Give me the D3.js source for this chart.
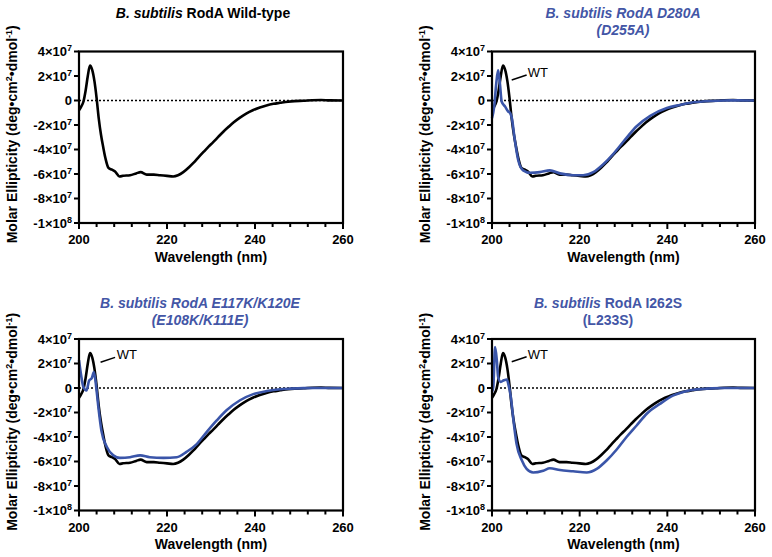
<!DOCTYPE html>
<html><head><meta charset="utf-8">
<script src="https://cdn.jsdelivr.net/npm/d3@7"></script>
<style>
body{margin:0;background:#fff;}
text{font-family:"Liberation Sans",Arial,Helvetica,sans-serif;}
</style></head>
<body>
<svg id="c" width="772" height="557"></svg>
<script>
// ---- data (ellipticity in units of 1e7 deg·cm²·dmol⁻¹) ----
const UNIT = 1e7;
const wtNm = [200,200.5,201,201.5,202,202.5,203,203.5,204,204.5,205,205.5,206,206.7,207.5,208.2,209.2,210,211.6,213,214,215.4,217,218.4,220,221.4,222.5,223.7,225,226,227,228.3,229.5,230.5,231.7,232.8,234,235.1,236.5,238.1,239.5,241.1,242.6,244.2,245.7,247.5,249,251,253,255,257,260];
const wtVal = [-0.8,-0.5,-0.1,0.8,2.0,2.85,2.5,1.6,0.2,-1.5,-2.8,-3.8,-4.7,-5.5,-5.65,-5.8,-6.2,-6.15,-6.1,-5.95,-5.85,-6.05,-6.05,-6.1,-6.15,-6.2,-6.1,-5.85,-5.45,-5.1,-4.7,-4.2,-3.75,-3.4,-2.95,-2.55,-2.15,-1.8,-1.42,-1.05,-0.8,-0.57,-0.4,-0.27,-0.19,-0.1,-0.05,-0.02,0.02,0.04,0.01,0];

const d280aNm = [200,200.5,201,201.4,201.8,202.2,203,203.7,204.1,204.5,205.2,206,207.1,208.7,210.9,213.2,215.5,218.5,220.8,223.1,225.4,227.7,230,233,236.1,239.9,242.9,245,247.5,250,253,256,260];
const d280aVal = [-1.44,-0.5,1.5,2.46,1.4,-0.08,-0.5,-0.9,-1.0,-1.4,-3.2,-4.9,-5.7,-5.9,-5.85,-5.7,-5.95,-6.1,-6.1,-5.85,-5.2,-4.35,-3.35,-2.1,-1.25,-0.62,-0.36,-0.2,-0.1,-0.04,0,0.01,0];

const e117kNm = [200,200.5,201,201.7,202.3,202.9,203.4,203.9,204.4,205.1,206.3,207.8,209.3,211.6,213.9,216.1,219.2,222.2,224.5,226.7,229,231.3,233.6,236.6,239.6,242.7,245.7,248,251,255,260];
const e117kVal = [2.27,1.0,0.08,-0.2,0.6,0.8,1.3,0.1,-1.55,-3.5,-4.8,-5.5,-5.7,-5.65,-5.5,-5.65,-5.7,-5.65,-5.2,-4.6,-3.6,-2.65,-1.8,-1.0,-0.5,-0.25,-0.1,-0.05,-0.01,0,0];

const i262sNm = [200,200.3,200.7,201.1,201.4,202,202.7,203.4,203.7,204.3,204.9,205.6,206.8,207.9,209.4,211.7,213.2,215.5,218.5,221.6,223.9,226.2,228.5,230.7,233,235.3,238.3,241.4,242.9,244.5,246,248,250,253,256,260];
const i262sVal = [-0.33,0.1,3.35,2.27,0.9,0.5,0.63,0.7,0.36,-0.74,-2.65,-4.56,-5.9,-6.6,-6.9,-6.75,-6.55,-6.7,-6.8,-6.9,-6.6,-5.9,-5.0,-4.0,-3.06,-2.1,-1.3,-0.6,-0.4,-0.25,-0.15,-0.08,-0.03,0,0,0];

const xTickMajor = [200,220,240,260];
const xTickMinor = [204,208,212,216,224,228,232,236,244,248,252,256];
const yTickValues = [4,2,0,-2,-4,-6,-8,-10];
const yTickLabels = [["4×10","7"],["2×10","7"],["0",""],["-2×10","7"],["-4×10","7"],["-6×10","7"],["-8×10","7"],["-1×10","8"]];

const titles = [
  [[["B. subtilis",true],[" RodA Wild-type",false]]],
  [[["B. subtilis RodA D280A",true]],[["(D255A)",true]]],
  [[["B. subtilis RodA E117K/K120E",true]],[["(E108K/K111E)",true]]],
  [[["B. subtilis",true],[" RodA I262S",false]],[["(L233S)",false]]]
];
const titleColors = ["#000","#4356a6","#4356a6","#4356a6"];
const mutantNm = [null,d280aNm,e117kNm,i262sNm];
const mutantVal = [null,d280aVal,e117kVal,i262sVal];
// WT annotation: [label nm, label value, line start nm, value, line end nm, value]
const wtNote = [null,[208.15,1.92,204.5,1.67,207.9,2.08],[208.6,2.37,204.9,2.1,208.2,2.5],[208.15,2.37,204.5,2.15,207.9,2.55]];

// ---- layout ----
const boxes = [
  {l:79,r:343,t:51.5,b:223, tx:203, ty:[18,35]},
  {l:492,r:755,t:51.5,b:223, tx:623, ty:[18,35]},
  {l:79,r:343,t:339,b:510.5, tx:200, ty:[308,325]},
  {l:492,r:755,t:339,b:510.5, tx:608, ty:[308,325]}
];
const BLUE = "#3a55a9";
const svg = d3.select("#c");
svg.append("rect").attr("width",772).attr("height",557).attr("fill","#fff");

boxes.forEach((B,i)=>{
  const x = d3.scaleLinear().domain([200,260]).range([B.l,B.r]);
  const y = d3.scaleLinear().domain([-10,4]).range([B.b,B.t]);
  const g = svg.append("g");

  titles[i].forEach((line,k)=>{
    const t = g.append("text").attr("x",B.tx).attr("y",B.ty[k]).attr("text-anchor","middle")
      .attr("font-size",14).attr("font-weight","bold").attr("fill",titleColors[i]);
    line.forEach(([s,it])=>t.append("tspan").text(s).attr("font-style",it?"italic":"normal"));
  });

  g.append("line").attr("x1",x(200)).attr("x2",x(260)).attr("y1",y(0)).attr("y2",y(0))
    .attr("stroke","#000").attr("stroke-width",1.3).attr("stroke-dasharray","2,2");

  const line = d3.line().x(d=>x(d[0])).y(d=>y(d[1])).curve(d3.curveMonotoneX);
  g.append("path").datum(d3.zip(wtNm,wtVal)).attr("d",line).attr("fill","none")
    .attr("stroke","#000").attr("stroke-width",2.6).attr("stroke-linejoin","round");
  if(mutantNm[i]){
    g.append("path").datum(d3.zip(mutantNm[i],mutantVal[i])).attr("d",line).attr("fill","none")
      .attr("stroke",BLUE).attr("stroke-width",2.6).attr("stroke-linejoin","round");
    const n = wtNote[i];
    g.append("line").attr("x1",x(n[2])).attr("y1",y(n[3])).attr("x2",x(n[4])).attr("y2",y(n[5]))
      .attr("stroke","#000").attr("stroke-width",1.5);
    g.append("text").attr("x",x(n[0])).attr("y",y(n[1])).attr("font-size",13).text("WT");
  }

  g.append("rect").attr("x",B.l).attr("y",B.t).attr("width",B.r-B.l).attr("height",B.b-B.t)
    .attr("fill","none").attr("stroke","#000").attr("stroke-width",2.2);

  xTickMajor.forEach(v=>{
    g.append("line").attr("x1",x(v)).attr("x2",x(v)).attr("y1",B.b).attr("y2",B.b+6).attr("stroke","#000").attr("stroke-width",2);
    g.append("text").attr("x",x(v)).attr("y",B.b+21).attr("text-anchor","middle").attr("font-size",13).attr("font-weight","bold").text(v);
  });
  xTickMinor.forEach(v=>{
    g.append("line").attr("x1",x(v)).attr("x2",x(v)).attr("y1",B.b).attr("y2",B.b+4).attr("stroke","#000").attr("stroke-width",2);
  });
  g.append("text").attr("x",(B.l+B.r)/2).attr("y",B.b+38.5).attr("text-anchor","middle")
    .attr("font-size",14).attr("font-weight","bold").text("Wavelength (nm)");

  yTickValues.forEach((v,k)=>{
    g.append("line").attr("x1",B.l-5).attr("x2",B.l).attr("y1",y(v)).attr("y2",y(v)).attr("stroke","#000").attr("stroke-width",2);
    const t = g.append("text").attr("x",B.l-7).attr("y",y(v)+4.5).attr("text-anchor","end")
      .attr("font-size",13).attr("font-weight","bold");
    t.append("tspan").text(yTickLabels[k][0]);
    if(yTickLabels[k][1]) t.append("tspan").attr("dy",-5).attr("font-size",9).text(yTickLabels[k][1]);
  });

  const yt = g.append("text").attr("transform",`translate(${B.l-62.5},${(B.t+B.b)/2-3}) rotate(-90)`)
    .attr("text-anchor","middle").attr("font-size",14).attr("font-weight","bold");
  yt.append("tspan").text("Molar Ellipticity (deg•cm");
  yt.append("tspan").attr("dy",-5).attr("font-size",9).text("2");
  yt.append("tspan").attr("dy",5).text("•dmol");
  yt.append("tspan").attr("dy",-5).attr("font-size",9).text("-1");
  yt.append("tspan").attr("dy",5).text(")");
});
</script>
</body></html>
